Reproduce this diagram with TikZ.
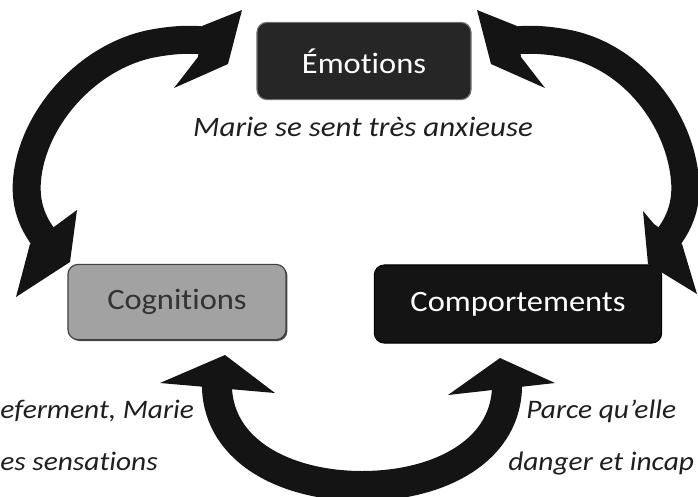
\documentclass[tikz,border=0pt]{standalone}
\usepackage{fontspec}
\setmainfont{Carlito}[FakeStretch=1.1,Ligatures=CommonOff]
\usetikzlibrary{shadows}
\definecolor{emofill}{HTML}{262626}
\definecolor{coggray}{HTML}{A2A2A2}
\definecolor{arrowblack}{HTML}{141414}

\begin{document}
\begin{tikzpicture}[x=0.025cm,y=-0.025cm,
  box/.style={rounded corners=0.25cm,inner sep=0pt,line width=0.8pt,font=\fontsize{21}{25}\selectfont},
  note/.style={inner sep=0pt,text=black!88,font=\fontsize{19}{23}\selectfont\itshape},
  shaft/.style={draw=arrowblack,line width=0.7cm},
  ushaft/.style={draw=arrowblack,line width=0.75cm},
  head/.style={fill=arrowblack}]
  \useasboundingbox (0,0) rectangle (698,496);
  \clip (0,0) rectangle (698,496);

  \node[box,fill=emofill,draw=black!55,text=white,minimum width=5.35cm,minimum height=1.93cm] (Em) at (364,61) {Émotions};
  \node[box,fill=coggray,draw=black!75,text=black!80,minimum width=5.45cm,minimum height=1.88cm,
    drop shadow={shadow xshift=1pt,shadow yshift=-1pt,opacity=0.9,fill=black!80}] (Cog) at (177,302) {Cognitions};
  \node[box,fill=black!92,draw=black,text=white,minimum width=7.18cm,minimum height=1.95cm] (Comp) at (518,304) {Comportements};

  \node[note,anchor=base,font=\fontsize{20}{24}\selectfont\itshape] (EmTxt) at (363,136) {Marie se sent très anxieuse};
  \node[note,anchor=base west] (CogTxtA) at (0,418) {eferment, Marie};
  \node[note,anchor=base west] (CogTxtB) at (0,470) {es sensations};
  \node[note,anchor=base west] (CompTxtA) at (526,418) {Parce qu’elle};
  \node[note,anchor=base west] (CompTxtB) at (508,470) {danger et incap};

  % tips and shaft ends
  \coordinate (eL) at (242,10);
  \coordinate (eLs) at (206,41);
  \coordinate (cL) at (16,297);
  \coordinate (cLs) at (44,238);
  \coordinate (eR) at (477,10);
  \coordinate (eRs) at (513,41);
  \coordinate (kR) at (697,294);
  \coordinate (kRs) at (668,238);
  \coordinate (cU) at (225,355);
  \coordinate (cUs) at (217,380);
  \coordinate (kU) at (500,358);
  \coordinate (kUs) at (507,382);

  % Emotions <-> Cognitions
  \draw[shaft] (cLs) .. controls (32,222) and (25,204) .. (27,180)
    .. controls (32,120) and (85,58) .. (150,44) .. controls (175,39) and (195,39) .. (eLs);
  \fill[head] (eL) -- (228,64) -- (174,88) -- (198,57) -- (202,26) -- cycle;
  \fill[head] (cL) -- (70,262) -- (77,210) -- (58,224) -- (30,244) -- cycle;

  % Emotions <-> Comportements
  \draw[shaft] (kRs) .. controls (680,222) and (687,204) .. (685,180)
    .. controls (680,120) and (634,58) .. (569,44) .. controls (544,39) and (524,39) .. (eRs);
  \fill[head] (eR) -- (491,64) -- (545,88) -- (521,57) -- (517,26) -- cycle;
  \fill[head] (kR) -- (648,264) -- (643,211) -- (654,224) -- (682,244) -- cycle;

  % Cognitions <-> Comportements
  \draw[ushaft] (cUs) .. controls (214,450) and (285,486) .. (362,486)
    .. controls (440,486) and (509,450) .. (kUs);
  \fill[head] (cU) -- (275,393) -- (160,383) -- cycle;
  \fill[head] (kU) -- (555,383) -- (448,395) -- cycle;

\end{tikzpicture}
\end{document}
